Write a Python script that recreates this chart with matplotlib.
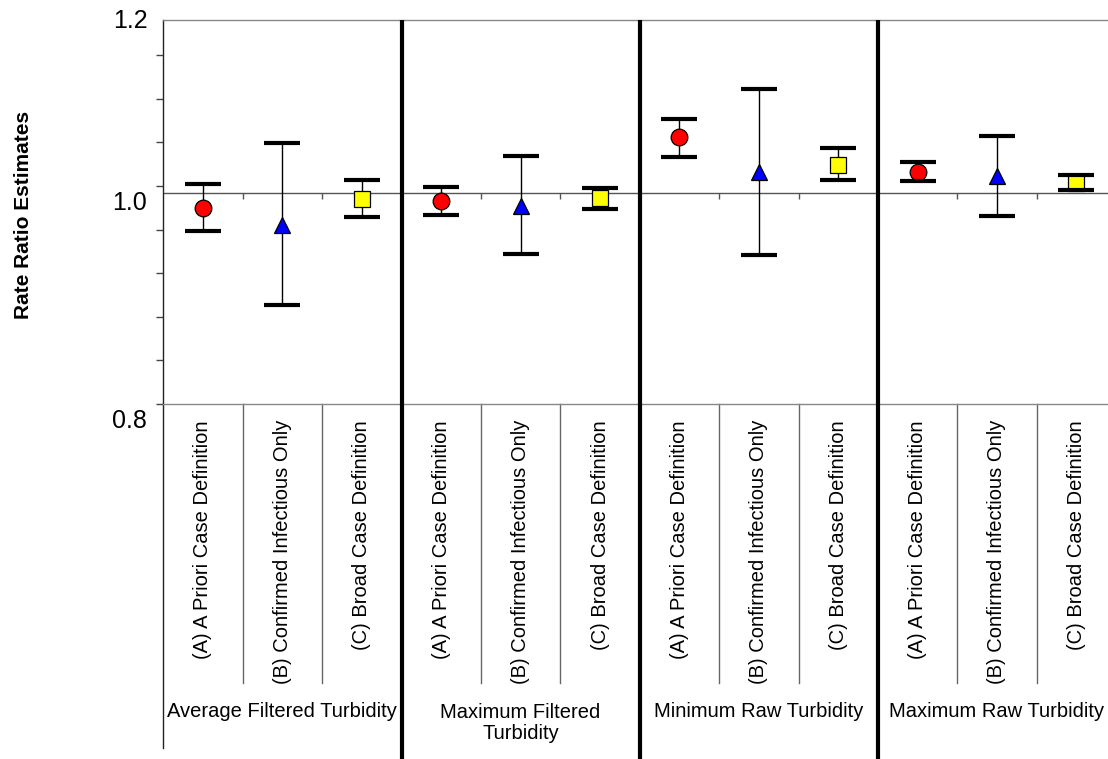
import numpy as np
import matplotlib
matplotlib.use("Agg")
import matplotlib.pyplot as plt
from matplotlib import markers
from matplotlib.transforms import blended_transform_factory, offset_copy

plt.rcParams["font.family"] = ["Liberation Sans", "DejaVu Sans"]

groups = ["Average Filtered Turbidity", "Maximum Filtered\nTurbidity",
          "Minimum Raw Turbidity", "Maximum Raw Turbidity"]
definitions = ["(A) A Priori Case Definition", "(B) Confirmed Infectious Only",
               "(C) Broad Case Definition"]

# rate ratio and 95% limits, one entry per turbidity measure
est_a = [0.984, 0.991, 1.060, 1.022]
lo_a = [0.960, 0.977, 1.038, 1.012]
hi_a = [1.009, 1.006, 1.081, 1.033]

est_b = [0.966, 0.986, 1.022, 1.018]
lo_b = [0.888, 0.937, 0.936, 0.976]
hi_b = [1.054, 1.040, 1.116, 1.062]

est_c = [0.993, 0.994, 1.030, 1.010]
lo_c = [0.975, 0.983, 1.013, 1.003]
hi_c = [1.013, 1.005, 1.048, 1.019]

series = [
    (est_a, lo_a, hi_a, "o", "#ff0000"),
    (est_b, lo_b, hi_b, "^", "#0000ff"),
    (est_c, lo_c, hi_c, "s", "#ffff00"),
]

n_def = len(definitions)
n_cat = len(groups) * n_def

fig = plt.figure(figsize=(11.08, 7.59), dpi=100)
# axes runs a little past the right edge of the figure
ax = fig.add_axes([163.3 / 1108, 1 - 404 / 759, 12 * 79.4 / 1108, 384 / 759])
ax.set_yscale("log")
ax.set_ylim(0.8, 1.2)
ax.set_xlim(-0.5, n_cat - 0.5)

for j, (est, lo, hi, mk, col) in enumerate(series):
    est = np.asarray(est)
    x = np.arange(len(groups)) * n_def + j
    yerr = [est - np.asarray(lo), np.asarray(hi) - est]
    eb = ax.errorbar(x, est, yerr=yerr, fmt="none", ecolor="black", elinewidth=1,
                     capsize=13, capthick=3, zorder=2, clip_on=False)
    for c in eb[1]:
        c.set_zorder(4)
    ax.plot(x, est, ls="none", marker=mk, ms=12, mfc=col, mec="black", mew=0.9,
            zorder=3, clip_on=False)

# category axis crossing at 1.0
ax.axhline(1.0, color="#555555", lw=1, zorder=1)
inner = [b - 0.5 for b in range(1, n_cat) if b % n_def]
ax.plot(inner, [1.0] * len(inner), ls="none", marker=markers.TICKDOWN, ms=4.5,
        mew=1, color="#555555", zorder=1)

# y axis: log10 ticks every 0.02 from 0.8, labels only at 0.8/1.0/1.2
ax.set_xticks([])
ax.set_yticks([])
ax.set_yticks(10 ** (np.log10(0.8) + 0.02 * np.arange(9)), minor=True)
ax.yaxis.set_minor_formatter(plt.NullFormatter())
ax.tick_params(axis="y", which="minor", length=5, width=1, color="#444444")
for side in ["top", "bottom"]:
    ax.spines[side].set_color("#888888")
    ax.spines[side].set_linewidth(1)
ax.spines["right"].set_visible(False)
ax.spines["left"].set_color("#222222")
ax.spines["left"].set_linewidth(1)

ylab_tr = blended_transform_factory(ax.transAxes, ax.transData)
for val, txt, dy in [(1.2, "1.2", -1), (1.0, "1.0", -10), (0.8, "0.8", -17)]:
    tr = offset_copy(ylab_tr, fig=fig, x=-16 * 0.72, y=dy * 0.72, units="points")
    ax.text(0, val, txt, transform=tr, ha="right", va="center", fontsize=18)

fig.text(24 / 1108, 1 - 215 / 759, "Rate Ratio Estimates", rotation=90,
         ha="center", va="center", fontsize=15, fontweight="bold")

# multi-level category labels below the plot area
tr = blended_transform_factory(ax.transData, ax.transAxes)
ax.plot([-0.5, -0.5], [0, -0.896], transform=tr, color="#222222", lw=1, clip_on=False)
for b in inner:
    ax.plot([b, b], [0, -0.7266], transform=tr, color="#666666", lw=1, clip_on=False)
for g in range(1, len(groups)):
    b = g * n_def - 0.5
    ax.plot([b, b], [1, -1.0], transform=tr, color="black", lw=3, clip_on=False,
            zorder=5, solid_capstyle="butt")

for g, name in enumerate(groups):
    for j, d in enumerate(definitions):
        ax.text(g * n_def + j, -0.0417, d, transform=tr, rotation=90,
                ha="center", va="top", fontsize=14.5)
    yc = -0.831 if "\n" in name else -0.801
    ax.text(g * n_def + (n_def - 1) / 2, yc, name, transform=tr, ha="center",
            va="center", fontsize=14.5, linespacing=1.15)

fig.savefig("out.png", dpi=100)
